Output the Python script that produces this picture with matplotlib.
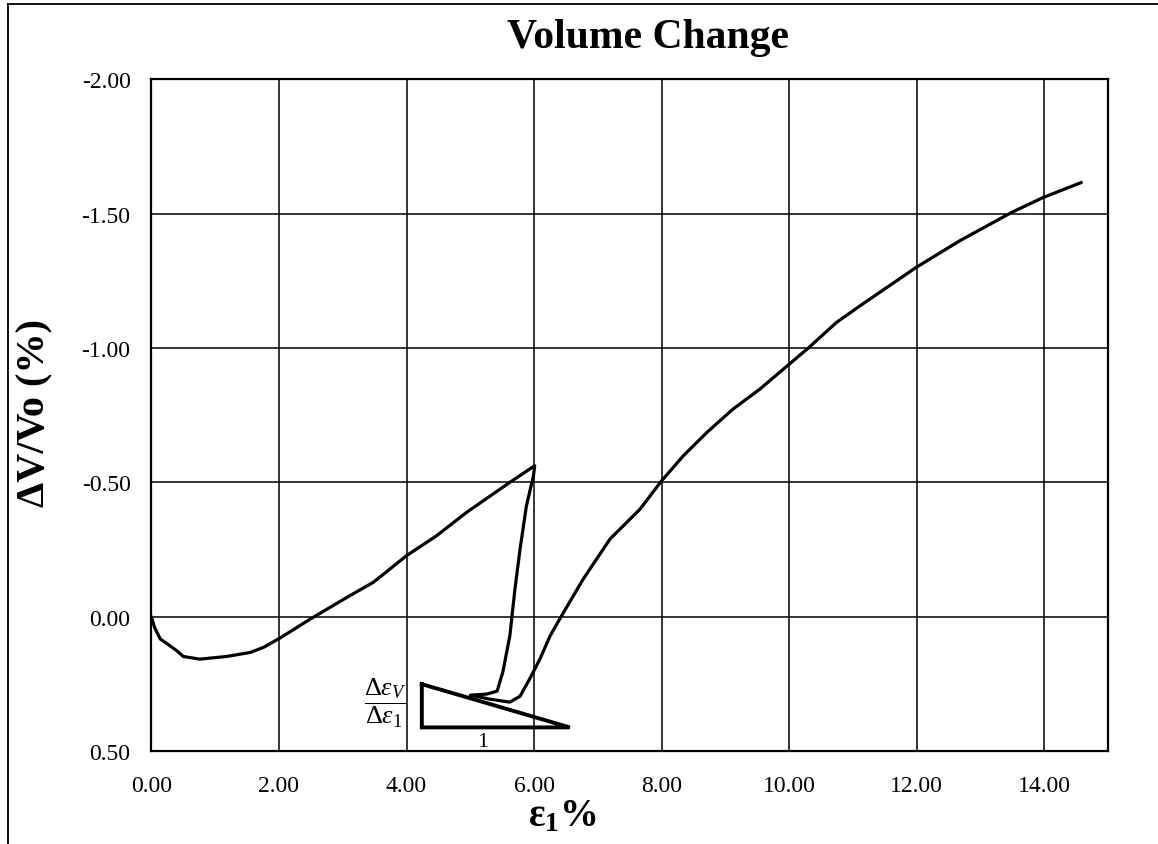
import matplotlib
matplotlib.use("Agg")
import matplotlib.pyplot as plt
from matplotlib.lines import Line2D

plt.rcParams['font.family'] = ['Liberation Serif', 'DejaVu Serif']
plt.rcParams['mathtext.fontset'] = 'custom'
plt.rcParams['mathtext.rm'] = 'Liberation Serif'
plt.rcParams['mathtext.it'] = 'Liberation Serif:italic'
plt.rcParams['mathtext.bf'] = 'Liberation Serif:bold'

# axial strain (%) and volumetric strain (%)
strain = [0.0, 0.05, 0.14, 0.29, 0.40, 0.50, 0.76, 1.18, 1.55, 1.76, 2.02,
          2.49, 3.11, 3.48, 4.00, 4.47, 4.94, 5.62, 6.01,
          5.99, 5.88, 5.78, 5.70, 5.62, 5.51, 5.42, 5.26, 5.00,
          5.31, 5.62, 5.78, 5.93, 6.09, 6.25, 6.40, 6.77, 7.19, 7.66,
          8.00, 8.34, 8.71, 9.12, 9.54, 10.00, 10.30, 10.74, 11.11,
          11.99, 12.68, 13.49, 13.98, 14.58]
dv = [0.0, 0.04, 0.083, 0.108, 0.127, 0.148, 0.158, 0.148, 0.133, 0.114, 0.079,
      0.009, -0.078, -0.128, -0.227, -0.301, -0.388, -0.50, -0.562,
      -0.524, -0.413, -0.252, -0.103, 0.071, 0.206, 0.277, 0.288, 0.292,
      0.307, 0.318, 0.296, 0.232, 0.158, 0.072, 0.009, -0.14, -0.289, -0.40,
      -0.506, -0.599, -0.686, -0.773, -0.847, -0.94, -1.0, -1.095, -1.157,
      -1.30, -1.40, -1.505, -1.56, -1.616]

# slope triangle (annotation)
tri_x = [4.24, 4.24, 6.56, 4.24]
tri_y = [0.251, 0.412, 0.412, 0.251]

xticks = [0, 2, 4, 6, 8, 10, 12, 14]
yticks = [-2.0, -1.5, -1.0, -0.5, 0.0, 0.5]

fig = plt.figure(figsize=(11.58, 8.45), dpi=100)
ax = fig.add_axes([0.1307, 0.110, 0.957 - 0.1307, 0.905 - 0.110])

ax.plot(strain, dv, color='black', lw=2.3, solid_joinstyle='round',
        solid_capstyle='round', zorder=3)
ax.plot(tri_x, tri_y, color='black', lw=2.8, solid_joinstyle='miter', zorder=3)

ax.set_xlim(0, 15)
ax.set_ylim(0.5, -2.0)
ax.set_xticks(xticks)
ax.set_yticks(yticks)
ax.set_xticklabels([f'{v:.2f}' for v in xticks])
ax.set_yticklabels([f'{v:.2f}' for v in yticks])
ax.tick_params(length=0, labelsize=17)
ax.tick_params(axis='y', pad=15)
ax.tick_params(axis='x', pad=17)
ax.grid(True, color='black', lw=1.1)
ax.set_axisbelow(True)
for s in ax.spines.values():
    s.set_linewidth(1.6)

ax.text(3.66, 0.318, r'$\dfrac{\Delta\varepsilon_V}{\Delta\varepsilon_1}$',
        fontsize=19, ha='center', va='center')
ax.text(5.2, 0.463, '1', fontsize=16, ha='center', va='center')

fig.text(0.56, 0.955, 'Volume Change', fontsize=30, fontweight='bold',
         ha='center', va='center')
fig.text(0.030, 0.511, 'ΔV/Vo (%)', fontsize=29, fontweight='bold',
         rotation=90, ha='center', va='center')
fig.text(0.486, 0.033, r'ε$_\mathbf{1}$%', fontsize=28, fontweight='bold',
         ha='center', va='center')

# outer border lines visible at left and top of the picture
fig.add_artist(Line2D([8 / 1158, 8 / 1158], [0, 1 - 5 / 845],
                      color='black', lw=1.3, transform=fig.transFigure))
fig.add_artist(Line2D([8 / 1158, 1], [1 - 5 / 845, 1 - 5 / 845],
                      color='black', lw=1.3, transform=fig.transFigure))

fig.savefig('out.png', dpi=100)
